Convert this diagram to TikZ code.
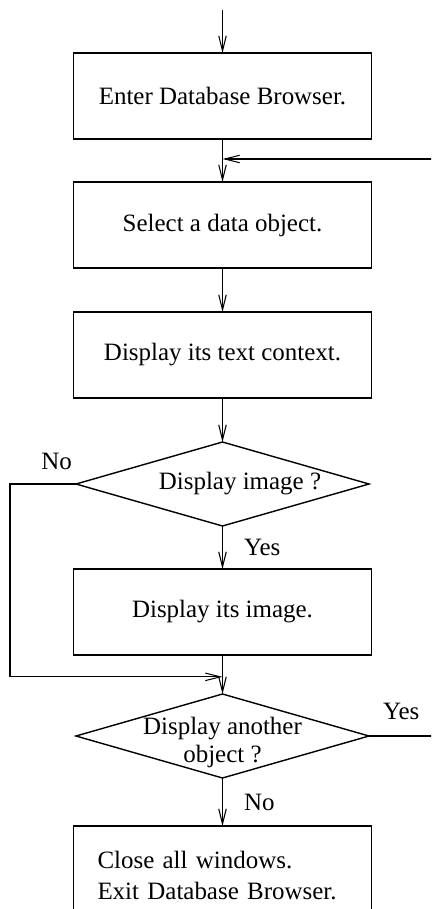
\documentclass[tikz,border=0pt]{standalone}
\usepackage{fontspec}
\setmainfont{Liberation Serif}
\usetikzlibrary{arrows.meta,positioning,shapes.geometric,calc}

\begin{document}
\begin{tikzpicture}[node distance=0.86cm,
		every node/.style={font=\fontsize{14.2}{17.6}\selectfont},
		procBox/.style={
				draw, rectangle, line width=0.8pt, outer sep=0pt,
				minimum width=5.96cm, minimum height=1.72cm,
				inner sep=0.15cm, align=center
			},
		decisionBox/.style={
				draw, diamond, aspect=3.49, line width=0.8pt, outer sep=0pt,
				minimum width=5.86cm, minimum height=1.68cm,
				inner sep=0pt, align=center
			},
		flowline/.style={line width=0.6pt},
		flowarrow/.style={line width=0.6pt, -{Straight Barb[length=3mm, width=1.5mm]}},
		branchLabel/.style={inner sep=2pt}
	]

	\useasboundingbox (0,0) rectangle (8.62,-18.18);
	\clip (0,0) rectangle (8.62,-18.18);

	% Boxes and decisions, top to bottom
	\node[procBox] (enter) at (4.45,-1.92) {Enter Database Browser.};
	\node[procBox, below=0.86cm of enter] (select) {Select a data object.};
	\node[procBox, below=0.88cm of select] (textctx) {Display its text context.};
	\node[decisionBox, below=0.88cm of textctx] (showq) {\hspace*{0.7cm}Display image ?};
	\node[procBox, below=0.86cm of showq] (image) {Display its image.};
	\node[decisionBox, below=0.78cm of image] (anotherq)
		{\raisebox{-0.52cm}[0pt][0pt]{\shortstack{Display another\\object ?}}};
	\node[procBox, below=0.96cm of anotherq, minimum height=2.2cm, text depth=0.86cm,
		align=left, text width=5.0cm] (close) {Close all windows.\\Exit Database Browser.};

	% Helper points
	\coordinate (entry) at ($(enter.north)+(0,0.86)$);
	\coordinate (rejoin) at ($(enter.south)!0.465!(select.north)$);
	\coordinate (merge) at ($(image.south)!0.56!(anotherq.north)$);
	\coordinate (leftrail) at (0.2,0);
	\coordinate (rightrail) at (9.2,0);

	% Main flow
	\draw[flowarrow] (entry) -- (enter.north);
	\draw[flowarrow] (enter.south) -- (select.north);
	\draw[flowarrow] (select.south) -- (textctx.north);
	\draw[flowarrow] (textctx.south) -- (showq.north);
	\draw[flowarrow] (showq.south) -- node[branchLabel, right=0.35cm] {Yes} (image.north);
	\draw[flowarrow] (image.south) -- (anotherq.north);
	\draw[flowarrow] (anotherq.south) -- node[branchLabel, right=0.35cm] {No} (close.north);

	% Branches
	\draw[flowarrow] (showq.west) -- node[branchLabel, pos=0, above left, yshift=0.2cm] {No}
		(showq.west -| leftrail) |- (merge);
	\draw[flowarrow] (anotherq.east) -- node[branchLabel, pos=0, above right, xshift=0.2cm, yshift=0.24cm] {Yes}
		(anotherq.east -| rightrail) |- (rejoin);
\end{tikzpicture}
\end{document}
